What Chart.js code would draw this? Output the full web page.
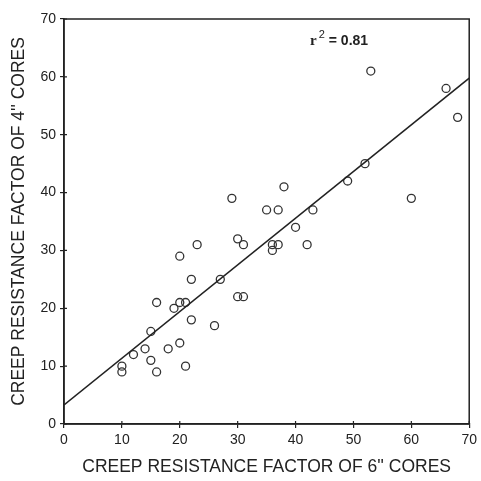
<!DOCTYPE html>
<html>
<head>
<meta charset="utf-8">
<script src="https://cdn.jsdelivr.net/npm/chart.js@4"></script>
<style>
  html, body { margin: 0; padding: 0; background: #fff; }
</style>
</head>
<body>
<canvas id="creep" width="481" height="481"></canvas>
<script>
// creep resistance factor, 6" cores vs 4" cores
const cores6 = [10, 10, 12, 14, 15, 15, 16, 16, 18, 19, 20, 20, 20, 21, 21, 22, 22, 23, 26, 27,
  29, 30, 30, 31, 31, 35, 36, 36, 37, 37, 38, 40, 42, 43, 49, 52, 53, 60, 66, 68];
const cores4 = [9, 10, 12, 13, 11, 16, 9, 21, 13, 20, 14, 21, 29, 21, 10, 25, 18, 31, 17, 25,
  39, 32, 22, 22, 31, 37, 31, 30, 37, 31, 41, 34, 31, 37, 42, 45, 61, 39, 58, 53];

// regression line end points
const fitX = [0, 70];
const fitY = [3.3, 59.8];

const tickValues = [0, 10, 20, 30, 40, 50, 60, 70];
const rSquared = '0.81';

const ink = '#222';
const labelFont = '"Liberation Sans", sans-serif';

const framePlugin = {
  id: 'frame',
  afterDraw(chart) {
    const { ctx, chartArea: a, scales } = chart;
    ctx.save();
    ctx.strokeStyle = ink;
    ctx.lineWidth = 1.5;
    ctx.strokeRect(a.left, a.top, a.right - a.left, a.bottom - a.top);

    // tick marks reach a little inside the frame too
    ctx.lineWidth = 1.2;
    ctx.beginPath();
    tickValues.forEach(v => {
      const px = scales.x.getPixelForValue(v);
      ctx.moveTo(px, a.bottom);
      ctx.lineTo(px, a.bottom - 3);
      const py = scales.y.getPixelForValue(v);
      ctx.moveTo(a.left, py);
      ctx.lineTo(a.left + 3, py);
    });
    ctx.stroke();

    // r^2 note
    let x = scales.x.getPixelForValue(42.5);
    const y = scales.y.getPixelForValue(65.5);
    ctx.fillStyle = ink;
    ctx.textBaseline = 'alphabetic';
    ctx.font = 'bold 15px "Liberation Serif", serif';
    ctx.fillText('r', x, y);
    x += ctx.measureText('r').width + 2;
    ctx.font = '11px "Liberation Sans", sans-serif';
    ctx.fillText('2', x, y - 7);
    x += ctx.measureText('2').width + 4;
    ctx.font = 'bold 14px "Liberation Sans", sans-serif';
    ctx.fillText('= ' + rSquared, x, y);
    ctx.restore();
  }
};

const axisCommon = {
  type: 'linear',
  min: 0,
  max: 70,
  afterBuildTicks: (scale) => {
    scale.ticks = tickValues.map(v => ({ value: v }));
  },
  border: { display: true, color: ink, width: 1.5 },
  grid: { drawOnChartArea: false, tickLength: 4, color: ink, lineWidth: 1.2 },
  ticks: {
    color: ink,
    font: { family: '"Liberation Sans", sans-serif', size: 14 },
    padding: 4
  },
  title: {
    display: true,
    color: ink,
    font: { family: labelFont, size: 17.5 },
    padding: 0
  }
};

new Chart(document.getElementById('creep').getContext('2d'), {
  type: 'scatter',
  data: {
    datasets: [
      {
        type: 'line',
        data: fitX.map((v, i) => ({ x: v, y: fitY[i] })),
        borderColor: ink,
        borderWidth: 1.6,
        pointRadius: 0,
        fill: false
      },
      {
        data: cores6.map((v, i) => ({ x: v, y: cores4[i] })),
        pointStyle: 'circle',
        pointRadius: 4,
        pointBackgroundColor: 'rgba(255,255,255,0)',
        pointBorderColor: '#333',
        pointBorderWidth: 1.3
      }
    ]
  },
  options: {
    responsive: false,
    animation: false,
    devicePixelRatio: 1,
    layout: { padding: { top: 19, right: 11, left: 0, bottom: 0 } },
    scales: {
      x: {
        ...axisCommon,
        position: 'bottom',
        title: { ...axisCommon.title, text: 'CREEP RESISTANCE FACTOR OF 6\'\' CORES', padding: { top: 0, bottom: 3 } },
        afterFit: (scale) => { scale.height = 57; }
      },
      y: {
        ...axisCommon,
        position: 'left',
        title: { ...axisCommon.title, text: 'CREEP RESISTANCE FACTOR OF 4\'\' CORES', padding: { top: 9, bottom: 0 } },
        afterFit: (scale) => { scale.width = 64; }
      }
    },
    plugins: {
      legend: { display: false },
      tooltip: { enabled: false }
    }
  },
  plugins: [framePlugin]
});
</script>
</body>
</html>
